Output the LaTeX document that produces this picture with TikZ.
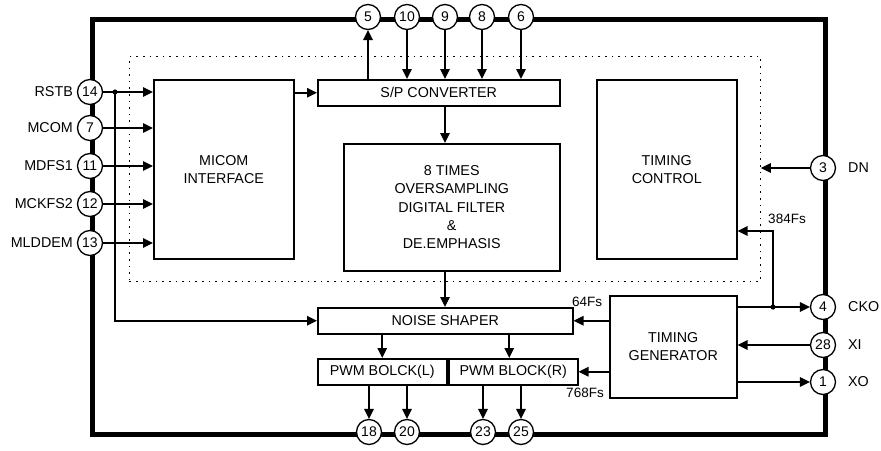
\documentclass[tikz,border=0pt]{standalone}
\usepackage{fontspec}
\setmainfont{Liberation Sans}
\usetikzlibrary{arrows.meta}
\begin{document}
\begin{tikzpicture}[x=1pt,y=-1pt,
  frame/.style={line width=4.5pt,line join=miter},
  blk/.style={draw,line width=1.5pt,fill=white,inner sep=0pt,font=\fontsize{14.3}{18.3}\selectfont,align=center,anchor=north west},
  pin/.style={circle,draw,line width=1.3pt,fill=white,minimum size=25pt,inner sep=0pt,font=\fontsize{14}{15}\selectfont},
  lab/.style={inner sep=0pt,font=\fontsize{14.3}{16}\selectfont},
  sig/.style={font=\fontsize{13.5}{15}\selectfont,inner sep=0pt},
  arr/.style={line width=1.6pt,-{Triangle[length=10pt,width=9.5pt]}},
  dotbox/.style={draw,line width=0.9pt,dash pattern=on 1.6pt off 5pt,anchor=north west,inner sep=0pt}]
\useasboundingbox (0,0) rectangle (881,450);
% chip frame
\node[draw,frame,minimum width=733pt,minimum height=415pt,anchor=north west,inner sep=0pt] (chip) at (90,17) {};
% dotted region
\node[dotbox,minimum width=631pt,minimum height=225pt] (dbox) at (129,56) {};
% blocks
\node[blk,minimum width=140pt,minimum height=179pt] (mi) at (153,79) {MICOM\\INTERFACE};
\node[blk,minimum width=242pt,minimum height=26pt] (sp) at (317,79) {S/P CONVERTER};
\node[blk,minimum width=216pt,minimum height=127pt] (flt) at (343,143) {8 TIMES\\OVERSAMPLING\\DIGITAL FILTER\\\&\\DE.EMPHASIS};
\node[blk,minimum width=140pt,minimum height=179pt] (tc) at (596,79) {TIMING\\CONTROL};
\node[blk,minimum width=255pt,minimum height=26pt] (ns) at (317,307) {NOISE SHAPER};
\node[blk,minimum width=129pt,minimum height=26pt] (pwml) at (317,358) {PWM BOLCK(L)};
\node[blk,minimum width=129pt,minimum height=26pt] (pwmr) at (448,358) {PWM BLOCK(R)};
\node[blk,minimum width=127pt,minimum height=102pt] (tg) at (609,295) {TIMING\\GENERATOR};
% pins top
\node[pin] (p5) at (368,17) {5};
\node[pin] (p10) at (407,17) {10};
\node[pin] (p9) at (445,17) {9};
\node[pin] (p8) at (482,17) {8};
\node[pin] (p6) at (521,17) {6};
% pins left
\node[pin] (p14) at (90,92) {14};
\node[pin] (p7) at (90,128) {7};
\node[pin] (p11) at (90,166) {11};
\node[pin] (p12) at (90,204) {12};
\node[pin] (p13) at (90,243) {13};
% pins right
\node[pin] (p3) at (823,168) {3};
\node[pin] (p4) at (823,307) {4};
\node[pin] (p28) at (823,345) {28};
\node[pin] (p1) at (823,382) {1};
% pins bottom
\node[pin] (p18) at (369,432) {18};
\node[pin] (p20) at (407,432) {20};
\node[pin] (p23) at (483,432) {23};
\node[pin] (p25) at (521,432) {25};
% pin labels
\node[lab,anchor=east] (lrstb) at (73,92) {RSTB};
\node[lab,anchor=east] (lmcom) at (73,128) {MCOM};
\node[lab,anchor=east] (lmdfs) at (73,166) {MDFS1};
\node[lab,anchor=east] (lmckfs) at (73,204) {MCKFS2};
\node[lab,anchor=east] (lmlddem) at (73,243) {MLDDEM};
\node[lab,anchor=west] (ldn) at (848,168) {DN};
\node[lab,anchor=west] (lcko) at (848,307) {CKO};
\node[lab,anchor=west] (lxi) at (848,345) {XI};
\node[lab,anchor=west] (lxo) at (848,382) {XO};
% left inputs
\coordinate (j1) at (115,92);
\draw[arr] (p14) -- (mi.west |- p14);
\fill (j1) circle (2.6pt);
\draw[arr] (j1) |- (ns.west);
\draw[arr] (p7) -- (mi.west |- p7);
\draw[arr] (p11) -- (mi.west |- p11);
\draw[arr] (p12) -- (mi.west |- p12);
\draw[arr] (p13) -- (mi.west |- p13);
% micom to s/p
\draw[arr] (mi.east |- sp.west) -- (sp.west);
% s/p pins
\draw[arr] (sp.north -| p5) -- (p5);
\draw[arr] (p10) -- (sp.north -| p10);
\draw[arr] (p9) -- (sp.north -| p9);
\draw[arr] (p8) -- (sp.north -| p8);
\draw[arr] (p6) -- (sp.north -| p6);
% data path
\draw[arr] (sp.south -| p9) -- (flt.north -| p9);
\draw[arr] (flt.south -| p9) -- (ns.north -| p9);
\draw[arr] (ns.south -| pwml.north) -- (pwml.north);
\draw[arr] ([xshift=-4pt]ns.south -| pwmr.north) -- ([xshift=-4pt]pwmr.north);
\draw[arr] (pwml.south -| p18) -- (p18);
\draw[arr] (pwml.south -| p20) -- (p20);
\draw[arr] (pwmr.south -| p23) -- (p23);
\draw[arr] (pwmr.south -| p25) -- (p25);
% timing generator
\draw[arr] (tg.west |- ns.east) -- (ns.east);
\node[sig] (l64) at (587,302) {64Fs};
\draw[arr] (tg.west |- pwmr.east) -- (pwmr.east);
\node[sig] (l768) at (585,393) {768Fs};
\coordinate (j2) at (773,307);
\coordinate (k384) at (773,231);
\draw[arr] (tg.east |- p4) -- (p4);
\fill (j2) circle (2.6pt);
\draw[arr] (j2) -- (k384) -- (tc.east |- k384);
\node[sig] (l384) at (787,219) {384Fs};
\draw[arr] (p28) -- (tg.east |- p28);
\draw[arr] (tg.east |- p1) -- (p1);
\draw[arr] (p3) -- (dbox.east |- p3);
\end{tikzpicture}
\end{document}
